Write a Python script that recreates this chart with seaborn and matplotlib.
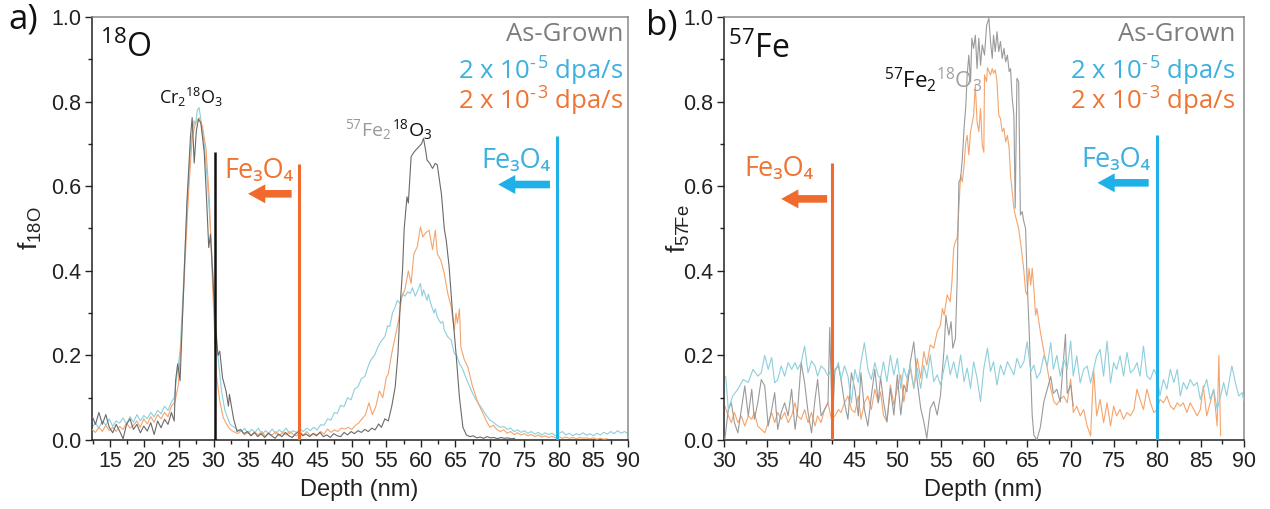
import matplotlib
matplotlib.use("Agg")
import matplotlib.pyplot as plt
import seaborn as sns
import pandas as pd
from matplotlib.ticker import MultipleLocator, FormatStrFormatter

# ---------------- data (depth nm, fraction) ----------------
# panel a) 18O fraction
A_GROWN = [(12.4,0.057),(12.9,0.037),(13.4,0.065),(13.9,0.037),(14.4,0.060),(14.9,0.030),(15.4,0.017),(15.9,0.037),
    (16.4,0.021),(16.9,0.003),(17.4,0.037),(17.9,0.050),(18.4,0.025),(18.9,0.037),(19.4,0.017),(19.9,0.033),
    (20.4,0.021),(20.9,0.041),(21.4,0.013),(21.9,0.045),(22.4,0.029),(22.9,0.049),(23.4,0.037),(23.9,0.065),
    (24.3,0.045),(24.5,0.140),(24.8,0.180),(25.15,0.140),(25.65,0.350),(26.15,0.565),(26.65,0.715),(26.9,0.762),
    (27.2,0.655),(27.5,0.730),(27.8,0.758),(28.15,0.750),(28.65,0.680),(29.0,0.565),(29.3,0.455),(29.55,0.486),
    (29.9,0.384),(30.3,0.258),(30.65,0.200),(30.9,0.210),(31.3,0.147),(31.8,0.116),(32.15,0.080),(32.3,0.108),
    (32.5,0.088),(32.9,0.050),(33.4,0.020),(33.9,0.025),(34.4,0.015),(34.9,0.020),(35.4,0.010),(35.9,0.018),
    (36.4,0.008),(36.9,0.015),(37.4,0.006),(37.9,0.016),(38.4,0.010),(38.9,0.004),(39.4,0.014),(39.9,0.008),
    (40.4,0.018),(40.9,0.010),(41.4,0.006),(41.9,0.015),(42.4,0.020),(42.9,0.010),(43.4,0.014),(43.9,0.008),
    (44.4,0.015),(44.9,0.010),(45.4,0.018),(45.9,0.008),(46.4,0.012),(46.9,0.006),(47.4,0.015),(47.9,0.010),
    (48.4,0.008),(48.9,0.018),(49.4,0.012),(49.9,0.020),(50.4,0.015),(50.9,0.022),(51.4,0.018),(51.9,0.025),
    (52.4,0.020),(52.9,0.028),(53.4,0.024),(53.9,0.038),(54.3,0.030),(54.8,0.050),(55.3,0.045),(55.8,0.080),
    (56.3,0.126),(56.7,0.205),(57.0,0.315),(57.35,0.400),(57.6,0.500),(58.0,0.575),(58.2,0.560),(58.6,0.670),
    (59.0,0.680),(59.3,0.686),(59.7,0.693),(60.1,0.700),(60.4,0.713),(60.7,0.685),(60.9,0.662),(61.3,0.654),
    (61.7,0.642),(62.1,0.654),(62.4,0.650),(62.6,0.626),(63.0,0.580),(63.4,0.500),(63.7,0.470),(64.1,0.410),
    (64.6,0.300),(65.1,0.205),(65.6,0.100),(66.1,0.030),(66.6,0.012),(67.1,0.008),(67.6,0.010),(68.1,0.005),
    (68.6,0.007),(69.1,0.004),(69.6,0.008),(70.1,0.005),(70.6,0.006),(71.1,0.003),(71.6,0.006),(72.1,0.004),
    (72.6,0.005),(73.1,0.003),(73.6,0.004)]

A_LO = [(12.4,0.030),(12.9,0.040),(13.4,0.028),(13.9,0.045),(14.4,0.035),(14.9,0.050),(15.4,0.032),(15.9,0.045),
    (16.4,0.040),(16.9,0.052),(17.4,0.038),(17.9,0.055),(18.4,0.042),(18.9,0.060),(19.4,0.045),(19.9,0.058),
    (20.4,0.050),(20.9,0.065),(21.4,0.055),(21.9,0.070),(22.4,0.062),(22.9,0.080),(23.4,0.070),(23.9,0.090),
    (24.3,0.100),(24.6,0.140),(25.15,0.210),(25.65,0.370),(26.15,0.550),(26.65,0.690),(27.15,0.755),(27.4,0.745),
    (27.65,0.780),(27.9,0.786),(28.15,0.760),(28.65,0.700),(29.15,0.600),(29.65,0.470),(30.15,0.320),(30.65,0.195),
    (31.15,0.116),(31.65,0.069),(32.4,0.037),(33.4,0.025),(34.0,0.020),(34.5,0.028),(35.0,0.015),(35.5,0.025),
    (36.0,0.018),(36.5,0.028),(37.0,0.012),(37.5,0.022),(38.0,0.016),(38.5,0.026),(39.0,0.014),(39.5,0.024),
    (40.0,0.018),(40.5,0.028),(41.0,0.015),(41.5,0.022),(42.0,0.018),(42.5,0.026),(43.0,0.020),(43.5,0.028),
    (44.0,0.022),(44.5,0.030),(45.0,0.024),(45.5,0.036),(46.0,0.035),(46.5,0.050),(47.0,0.047),(47.5,0.065),
    (47.9,0.063),(48.4,0.082),(48.9,0.079),(49.4,0.100),(49.9,0.095),(50.4,0.120),(50.9,0.126),(51.4,0.145),
    (51.9,0.150),(52.4,0.175),(52.8,0.190),(53.3,0.200),(53.8,0.220),(54.3,0.235),(54.8,0.244),(55.2,0.270),
    (55.5,0.268),(55.9,0.300),(56.3,0.315),(56.6,0.330),(57.0,0.323),(57.4,0.345),(57.7,0.340),(58.1,0.350),
    (58.5,0.347),(58.8,0.360),(59.2,0.340),(59.6,0.355),(59.95,0.370),(60.2,0.340),(60.4,0.355),(60.9,0.330),
    (61.1,0.345),(61.4,0.325),(61.9,0.300),(62.1,0.310),(62.4,0.290),(62.9,0.276),(63.2,0.280),(63.4,0.260),
    (63.9,0.244),(64.4,0.236),(64.85,0.205),(65.2,0.200),(65.6,0.180),(66.0,0.170),(66.3,0.157),(66.7,0.140),
    (67.1,0.126),(67.5,0.110),(68.0,0.095),(68.5,0.083),(69.0,0.071),(69.5,0.058),(70.0,0.047),(70.5,0.042),
    (71.0,0.035),(71.5,0.030),(72.0,0.032),(72.5,0.025),(73.0,0.028),(73.5,0.020),(74.0,0.024),(74.5,0.018),
    (75.0,0.022),(75.5,0.016),(76.0,0.020),(76.5,0.014),(77.0,0.018),(77.5,0.012),(78.0,0.017),(78.5,0.013),
    (79.0,0.016),(79.5,0.010),(80.0,0.015),(80.5,0.020),(81.0,0.012),(81.5,0.016),(82.0,0.010),(82.5,0.015),
    (83.0,0.012),(83.5,0.017),(84.0,0.011),(84.5,0.015),(85.0,0.010),(85.5,0.016),(86.0,0.012),(86.5,0.018),
    (87.0,0.014),(87.5,0.020),(88.0,0.015),(88.5,0.022),(89.0,0.016),(89.5,0.020),(90.0,0.015)]

A_HI = [(12.4,0.025),(12.9,0.018),(13.4,0.030),(13.9,0.020),(14.4,0.035),(14.9,0.022),(15.4,0.030),(15.9,0.020),
    (16.4,0.032),(16.9,0.025),(17.4,0.040),(17.9,0.028),(18.4,0.035),(18.9,0.045),(19.4,0.030),(19.9,0.050),
    (20.4,0.038),(20.9,0.055),(21.4,0.042),(21.9,0.060),(22.4,0.050),(22.9,0.065),(23.4,0.055),(23.9,0.080),
    (24.4,0.090),(24.9,0.130),(25.4,0.260),(25.9,0.430),(26.4,0.590),(26.9,0.715),(27.4,0.750),(27.9,0.762),
    (28.4,0.740),(28.9,0.690),(29.4,0.565),(29.9,0.350),(30.4,0.155),(30.9,0.092),(31.4,0.053),(31.9,0.037),
    (32.4,0.025),(32.9,0.020),(33.5,0.015),(34.0,0.022),(34.5,0.012),(35.0,0.020),(35.5,0.010),(36.0,0.018),
    (36.5,0.012),(37.0,0.020),(37.5,0.008),(38.0,0.016),(38.5,0.012),(39.0,0.020),(39.5,0.010),(40.0,0.018),
    (40.5,0.012),(41.0,0.020),(41.5,0.014),(42.0,0.010),(42.5,0.018),(43.0,0.012),(43.5,0.020),(44.0,0.010),
    (44.5,0.016),(45.0,0.012),(45.5,0.020),(46.0,0.014),(46.5,0.026),(47.0,0.018),(47.5,0.024),(48.0,0.020),
    (48.5,0.028),(49.0,0.026),(49.5,0.030),(50.0,0.025),(50.5,0.034),(51.0,0.040),(51.5,0.050),(52.0,0.060),
    (52.5,0.088),(53.0,0.060),(53.5,0.080),(54.0,0.116),(54.5,0.100),(55.0,0.147),(55.3,0.157),(55.8,0.205),
    (56.3,0.245),(56.8,0.284),(57.25,0.340),(57.7,0.355),(58.2,0.400),(58.6,0.370),(59.0,0.440),(59.5,0.457),
    (59.95,0.504),(60.3,0.480),(60.7,0.490),(61.2,0.496),(61.7,0.450),(62.1,0.496),(62.4,0.440),(62.9,0.425),
    (63.4,0.394),(63.9,0.347),(64.4,0.315),(64.85,0.260),(65.1,0.300),(65.3,0.276),(65.6,0.310),(65.8,0.220),
    (66.3,0.190),(66.8,0.173),(67.5,0.126),(68.3,0.087),(69.0,0.063),(69.5,0.045),(70.0,0.030),(70.5,0.035),
    (71.0,0.025),(71.5,0.020),(72.0,0.024),(72.5,0.016),(73.0,0.020),(73.5,0.013),(74.0,0.017),(74.5,0.012),
    (75.0,0.015),(75.5,0.010),(76.0,0.013),(76.5,0.008),(77.0,0.012),(77.5,0.007),(78.0,0.010),(78.5,0.006),
    (79.0,0.009),(79.5,0.005),(80.0,0.008),(80.5,0.004),(81.0,0.007),(81.5,0.004),(82.0,0.006),(82.5,0.003),
    (83.0,0.006),(83.5,0.004),(84.0,0.005),(84.5,0.003),(85.0,0.005),(85.5,0.002),(86.0,0.004),(86.5,0.002),
    (87.0,0.003)]

# panel b) 57Fe fraction
B_GROWN = [(30.1,0.002),(30.5,0.072),(30.85,0.088),(31.2,0.041),(31.6,0.017),(32.0,0.072),(32.4,0.128),(32.8,0.057),
    (33.2,0.120),(33.5,0.049),(33.9,0.088),(34.3,0.143),(34.7,0.128),(35.1,0.033),(35.5,0.072),(35.85,0.112),
    (36.2,0.025),(36.6,0.065),(37.0,0.088),(37.4,0.057),(37.8,0.120),(38.2,0.025),(38.5,0.072),(38.9,0.183),
    (39.3,0.136),(39.7,0.065),(40.1,0.017),(40.5,0.096),(40.8,0.143),(41.2,0.057),(41.6,0.072),(42.0,0.088),
    (42.2,0.266),(42.5,0.033),(42.8,0.167),(43.2,0.175),(43.5,0.143),(43.9,0.088),(44.3,0.049),(44.7,0.159),
    (45.1,0.120),(45.5,0.057),(45.8,0.159),(46.2,0.072),(46.6,0.033),(47.0,0.104),(47.4,0.167),(47.8,0.088),
    (48.06,0.150),(48.4,0.091),(48.8,0.043),(49.2,0.122),(49.6,0.059),(50.0,0.154),(50.4,0.059),(50.75,0.130),
    (51.1,0.114),(51.5,0.185),(51.9,0.232),(52.3,0.138),(52.7,0.075),(53.06,0.043),(53.4,0.004),(53.8,0.075),
    (54.2,0.091),(54.6,0.059),(54.98,0.106),(55.4,0.217),(55.6,0.295),(55.75,0.272),(55.95,0.248),(56.2,0.280),
    (56.4,0.217),(56.7,0.240),(56.9,0.374),(56.98,0.470),(57.1,0.610),(57.3,0.618),(57.5,0.666),(57.7,0.737),
    (57.9,0.790),(58.06,0.863),(58.25,0.910),(58.45,0.847),(58.6,0.950),(58.8,0.926),(59.0,0.957),(59.2,0.878),
    (59.4,0.950),(59.6,0.886),(59.8,0.934),(60.06,0.910),(60.3,0.980),(60.56,0.997),(60.75,0.942),(60.95,0.902),
    (61.1,0.957),(61.3,0.918),(61.5,0.965),(61.7,0.918),(61.9,0.942),(62.1,0.902),(62.3,0.926),(62.5,0.894),
    (62.7,0.910),(62.9,0.871),(63.06,0.878),(63.25,0.808),(63.45,0.768),(63.6,0.548),(63.8,0.855),(64.0,0.847),
    (64.2,0.532),(64.4,0.540),(64.6,0.516),(64.8,0.500),(64.98,0.374),(65.2,0.264),(65.4,0.146),(65.56,0.059),
    (65.75,0.012),(66.1,0.000),(66.5,0.030),(66.9,0.090),(67.3,0.120),(67.7,0.150),(68.0,0.110),(68.4,0.120),
    (68.8,0.090),(69.1,0.170),(69.4,0.250),(69.6,0.110),(70.0,0.130),(70.3,0.080)]

B_LO = [(30.2,0.150),(30.5,0.072),(31.0,0.104),(31.6,0.120),(32.2,0.143),(32.8,0.136),(33.35,0.167),(33.9,0.151),
    (34.3,0.159),(34.7,0.200),(35.1,0.167),(35.5,0.195),(35.85,0.135),(36.2,0.143),(36.6,0.175),(37.0,0.151),
    (37.4,0.183),(37.8,0.167),(38.2,0.183),(38.5,0.167),(38.9,0.183),(39.3,0.222),(39.7,0.159),(40.1,0.187),
    (40.5,0.175),(40.8,0.151),(41.2,0.175),(41.6,0.167),(42.0,0.151),(42.4,0.167),(42.8,0.159),(43.2,0.183),
    (43.5,0.143),(43.9,0.175),(44.3,0.151),(44.7,0.088),(45.1,0.167),(45.5,0.136),(45.8,0.183),(46.2,0.230),
    (46.6,0.167),(47.0,0.143),(47.4,0.183),(47.8,0.151),(48.06,0.146),(48.4,0.185),(48.8,0.138),(49.2,0.200),
    (49.6,0.154),(50.0,0.193),(50.4,0.122),(50.75,0.170),(51.1,0.146),(51.5,0.177),(51.9,0.122),(52.3,0.170),
    (52.7,0.122),(53.06,0.177),(53.4,0.146),(53.8,0.201),(54.2,0.138),(54.6,0.154),(54.98,0.130),(55.4,0.170),
    (55.75,0.201),(56.1,0.154),(56.5,0.185),(56.9,0.146),(57.3,0.201),(57.7,0.138),(58.06,0.170),(58.45,0.122),
    (58.8,0.185),(59.2,0.146),(59.6,0.091),(59.98,0.170),(60.4,0.217),(60.75,0.162),(61.1,0.185),(61.5,0.130),
    (61.9,0.177),(62.3,0.154),(62.7,0.185),(63.06,0.170),(63.45,0.154),(63.8,0.193),(64.2,0.170),(64.6,0.185),
    (64.98,0.232),(65.4,0.162),(65.75,0.177),(66.1,0.146),(66.5,0.160),(66.9,0.200),(67.3,0.175),(67.7,0.230),
    (68.0,0.167),(68.4,0.200),(68.8,0.151),(69.2,0.191),(69.6,0.167),(70.0,0.234),(70.3,0.151),(70.7,0.199),
    (71.1,0.135),(71.5,0.167),(71.9,0.175),(72.3,0.135),(72.65,0.167),(73.0,0.199),(73.4,0.214),(73.8,0.151),
    (74.2,0.234),(74.6,0.135),(74.96,0.183),(75.3,0.167),(75.7,0.199),(76.1,0.151),(76.5,0.207),(76.9,0.159),
    (77.3,0.167),(77.65,0.183),(78.0,0.151),(78.4,0.222),(78.8,0.151),(79.2,0.143),(79.6,0.167),(80.0,0.151),
    (80.3,0.104),(80.7,0.143),(81.1,0.120),(81.5,0.167),(81.9,0.136),(82.3,0.167),(82.65,0.104),(83.0,0.136),
    (83.4,0.120),(83.8,0.143),(84.2,0.128),(84.6,0.136),(84.96,0.096),(85.3,0.120),(85.7,0.143),(86.1,0.096),
    (86.5,0.120),(86.9,0.072),(87.3,0.104),(87.65,0.136),(88.0,0.104),(88.6,0.175),(89.0,0.136),(89.4,0.104),
    (89.8,0.112),(90.0,0.090)]

B_HI = [(30.1,0.080),(30.5,0.057),(30.85,0.041),(31.2,0.065),(31.6,0.041),(32.0,0.057),(32.4,0.033),(32.8,0.057),
    (33.2,0.049),(33.5,0.065),(33.9,0.033),(34.3,0.025),(34.7,0.017),(35.1,0.041),(35.5,0.065),(35.85,0.041),
    (36.2,0.065),(36.6,0.049),(37.0,0.065),(37.4,0.041),(37.8,0.057),(38.2,0.088),(38.5,0.057),(38.9,0.049),
    (39.3,0.072),(39.7,0.041),(40.1,0.065),(40.5,0.033),(40.8,0.057),(41.2,0.041),(41.6,0.072),(42.0,0.088),
    (42.4,0.049),(42.8,0.057),(43.2,0.072),(43.5,0.065),(43.9,0.088),(44.3,0.104),(44.7,0.072),(45.1,0.065),
    (45.5,0.104),(45.8,0.049),(46.2,0.088),(46.6,0.104),(47.0,0.072),(47.4,0.120),(47.8,0.088),(48.06,0.114),
    (48.4,0.059),(48.8,0.043),(49.2,0.130),(49.6,0.083),(50.0,0.122),(50.4,0.154),(50.75,0.090),(51.1,0.138),
    (51.5,0.170),(51.9,0.122),(52.3,0.193),(52.7,0.146),(53.06,0.209),(53.4,0.177),(53.8,0.225),(54.2,0.217),
    (54.6,0.256),(54.98,0.272),(55.2,0.311),(55.4,0.295),(55.75,0.343),(56.1,0.327),(56.3,0.374),(56.5,0.453),
    (56.7,0.469),(56.9,0.477),(57.1,0.548),(57.3,0.626),(57.5,0.610),(57.7,0.650),(57.9,0.705),(58.06,0.720),
    (58.25,0.674),(58.45,0.729),(58.8,0.768),(59.0,0.840),(59.2,0.752),(59.4,0.729),(59.6,0.784),(59.8,0.697),
    (59.98,0.680),(60.06,0.863),(60.3,0.847),(60.4,0.880),(60.75,0.863),(60.95,0.878),(61.1,0.867),(61.3,0.875),
    (61.5,0.847),(61.7,0.768),(61.9,0.760),(62.1,0.729),(62.3,0.737),(62.5,0.705),(62.7,0.720),(62.9,0.690),
    (63.06,0.626),(63.25,0.587),(63.45,0.548),(63.6,0.532),(63.8,0.516),(64.0,0.500),(64.2,0.469),(64.4,0.437),
    (64.6,0.400),(64.8,0.351),(64.98,0.343),(65.2,0.406),(65.4,0.366),(65.56,0.406),(65.75,0.359),(65.95,0.295),
    (66.1,0.311),(66.5,0.256),(66.9,0.210),(67.3,0.170),(67.7,0.122),(68.06,0.091),(68.4,0.083),(68.8,0.096),
    (69.2,0.104),(69.6,0.088),(70.0,0.144),(70.3,0.065),(70.7,0.080),(71.1,0.057),(71.5,0.072),(71.9,0.033),
    (72.3,0.010),(72.65,0.167),(73.0,0.057),(73.4,0.096),(73.8,0.041),(74.2,0.088),(74.6,0.033),(74.96,0.080),
    (75.3,0.057),(75.7,0.072),(76.1,0.049),(76.5,0.065),(76.9,0.057),(77.3,0.072),(77.65,0.120),(78.0,0.096),
    (78.4,0.072),(78.8,0.120),(79.2,0.088),(79.6,0.065),(80.0,0.072),(80.3,0.096),(80.7,0.088),(81.1,0.104),
    (81.5,0.080),(81.9,0.072),(82.3,0.088),(82.65,0.080),(83.0,0.088),(83.4,0.065),(83.8,0.088),(84.2,0.072),
    (84.6,0.057),(84.96,0.072),(85.3,0.128),(85.7,0.057),(86.1,0.088),(86.5,0.120),(86.9,0.033),(87.1,0.200),
    (87.3,0.010)]

SERIES_NAMES = ["As-Grown", "2 x 10$^{\u2010\u200a5}$ dpa/s", "2 x 10$^{\u2010\u200a3}$ dpa/s"]
X_TICKS_A = [15, 20, 25, 30, 35, 40, 45, 50, 55, 60, 65, 70, 75, 80, 85, 90]
X_TICKS_B = [30, 35, 40, 45, 50, 55, 60, 65, 70, 75, 80, 85, 90]
Y_TICKS = [0.0, 0.2, 0.4, 0.6, 0.8, 1.0]
# Fe3O4 boundary depths (nm) and line tops
A_VLINES = [(30.2, 0.68), (42.35, 0.652), (79.75, 0.718)]
B_VLINES = [(42.5, 0.655), (79.95, 0.722)]

# ---------------- style ----------------
sns.set_theme(style="ticks")
plt.rcParams['font.family'] = ['Liberation Sans', 'DejaVu Sans']
plt.rcParams['mathtext.default'] = 'regular'

C_GRAY_A = '#6a6a6a'
C_GRAY_B = '#9a9a9a'
C_BLUE_TR = '#8dcfdc'
C_ORANGE_TR = '#f4a46c'
C_TXT_GRAY = '#7d7d7d'
C_TXT_BLUE = '#3cb0de'
C_TXT_ORANGE = '#ef7434'
C_VL_ORANGE = '#ef6a2c'
C_VL_BLUE = '#1fb0e8'
ANN = ['Open Sans', 'DejaVu Sans']
TICKF = ['Liberation Sans', 'DejaVu Sans']

W, H = 1270, 509
fig = plt.figure(figsize=(W / 100, H / 100), dpi=100)
axA = fig.add_axes([92 / W, 69 / H, 536 / W, 423 / H])
axB = fig.add_axes([724 / W, 69 / H, 520 / W, 423 / H])


def draw(ax, pts, color, z):
    df = pd.DataFrame(pts, columns=["depth", "f"])
    sns.lineplot(data=df, x="depth", y="f", ax=ax, color=color, lw=0.8,
                 estimator=None, sort=False, legend=False, zorder=z)


draw(axA, A_LO, C_BLUE_TR, 2)
draw(axA, A_HI, C_ORANGE_TR, 3)
draw(axA, A_GROWN, C_GRAY_A, 4)

draw(axB, B_HI, C_ORANGE_TR, 2)
draw(axB, B_GROWN, C_GRAY_B, 3)
draw(axB, B_LO, C_BLUE_TR, 4)

for ax, xt, xl in [(axA, X_TICKS_A, (12.4, 90)), (axB, X_TICKS_B, (30, 90))]:
    ax.set_xlim(*xl)
    ax.set_ylim(0, 1.0)
    ax.set_xticks(xt)
    ax.set_yticks(Y_TICKS)
    ax.xaxis.set_minor_locator(MultipleLocator(2.5))
    ax.yaxis.set_minor_locator(MultipleLocator(0.1))
    ax.yaxis.set_major_formatter(FormatStrFormatter('%.1f'))
    ax.tick_params(which='major', direction='out', length=5, width=1.0, labelsize=15.5,
                   colors='#222222', pad=3)
    ax.tick_params(which='minor', direction='out', length=3, width=1.0, colors='#222222')
    ax.tick_params(top=False, right=False)
    for lab in ax.get_xticklabels() + ax.get_yticklabels():
        lab.set_family(TICKF)
    for s in ['left', 'bottom']:
        ax.spines[s].set_color('#222222')
        ax.spines[s].set_linewidth(1.1)
    for s in ['top', 'right']:
        ax.spines[s].set_color('#8a8a8a')
        ax.spines[s].set_linewidth(1.1)
    ax.set_xlabel("Depth (nm)", fontsize=17, color='#222222', family=TICKF)
    ax.xaxis.set_label_coords(0.498, -0.092)
    ax.grid(False)

axA.set_ylabel("f$_{18O}$", fontsize=19, color='#222222', family=TICKF)
axA.yaxis.set_label_coords(-0.09, 0.5)
axB.set_ylabel("f$_{57Fe}$", fontsize=19, color='#222222', family=TICKF)
axB.yaxis.set_label_coords(-0.062, 0.5)

# vertical boundary lines
for (x, top), c in zip(A_VLINES, ['#111111', C_VL_ORANGE, C_VL_BLUE]):
    axA.plot([x, x], [0, top], color=c, lw=1.8 if c == '#111111' else 2.2, zorder=5,
             solid_capstyle='butt')
for (x, top), c in zip(B_VLINES, [C_VL_ORANGE, C_VL_BLUE]):
    axB.plot([x, x], [0, top], color=c, lw=2.2, zorder=5, solid_capstyle='butt')

ARROW = "simple,head_length=0.95,head_width=1.05,tail_width=0.42"


def arrow(ax, x0, x1, y, c):
    ax.annotate("", xy=(x1, y), xytext=(x0, y),
                arrowprops=dict(arrowstyle=ARROW, color=c, mutation_scale=13,
                                shrinkA=0, shrinkB=0, lw=0), zorder=6)


# series labels (top right)
for ax, xr in [(axA, 89.3), (axB, 89.0)]:
    ax.text(xr, 0.958, SERIES_NAMES[0], color=C_TXT_GRAY, fontsize=18.5, family=ANN,
            ha='right', va='center')
    ax.text(xr, 0.872, SERIES_NAMES[1], color=C_TXT_BLUE, fontsize=18.5, family=ANN,
            ha='right', va='center')
    ax.text(xr, 0.800, SERIES_NAMES[2], color=C_TXT_ORANGE, fontsize=18.5, family=ANN,
            ha='right', va='center')

# panel a annotations
axA.text(13.6, 0.925, "$^{18}$O", fontsize=23, family=ANN, color='#111111',
         ha='left', va='center')
axA.text(26.8, 0.81, "Cr$_2$$^{18}$O$_3$", fontsize=13, family=ANN, color='#111111',
         ha='center', va='center')
axA.text(55.8, 0.734, "$^{57}$Fe$_2$", fontsize=14, family=ANN, color='#9a9a9a',
         ha='right', va='center')
axA.text(55.8, 0.734, "$^{18}$O$_3$", fontsize=14, family=ANN, color='#111111',
         ha='left', va='center')
axA.text(36.6, 0.635, "Fe₃O₄", fontsize=19.5, family=ANN, color=C_TXT_ORANGE,
         ha='center', va='center')
axA.text(73.8, 0.659, "Fe₃O₄", fontsize=19.5, family=ANN, color=C_TXT_BLUE,
         ha='center', va='center')
arrow(axA, 41.3, 35.0, 0.582, C_VL_ORANGE)
arrow(axA, 78.7, 71.2, 0.604, C_VL_BLUE)

# panel b annotations
axB.text(30.5, 0.923, "$^{57}$Fe", fontsize=23, family=ANN, color='#111111',
         ha='left', va='center')
axB.text(54.5, 0.852, "$^{57}$Fe$_2$", fontsize=16, family=ANN, color='#111111',
         ha='right', va='center')
axB.text(54.5, 0.852, "$^{18}$O$_3$", fontsize=16, family=ANN, color='#a0a0a0',
         ha='left', va='center')
axB.text(36.3, 0.64, "Fe₃O₄", fontsize=19.5, family=ANN, color=C_TXT_ORANGE,
         ha='center', va='center')
axB.text(75.2, 0.663, "Fe₃O₄", fontsize=19.5, family=ANN, color=C_TXT_BLUE,
         ha='center', va='center')
arrow(axB, 41.9, 36.6, 0.570, C_VL_ORANGE)
arrow(axB, 79.0, 73.1, 0.608, C_VL_BLUE)

# panel letters
fig.text(8 / W, 1 - 19 / H, "a)", fontsize=25, family=ANN, color='#111111', va='center', ha='left')
fig.text(646 / W, 1 - 25 / H, "b)", fontsize=25, family=ANN, color='#111111', va='center', ha='left')

fig.savefig("out.png", dpi=100)
